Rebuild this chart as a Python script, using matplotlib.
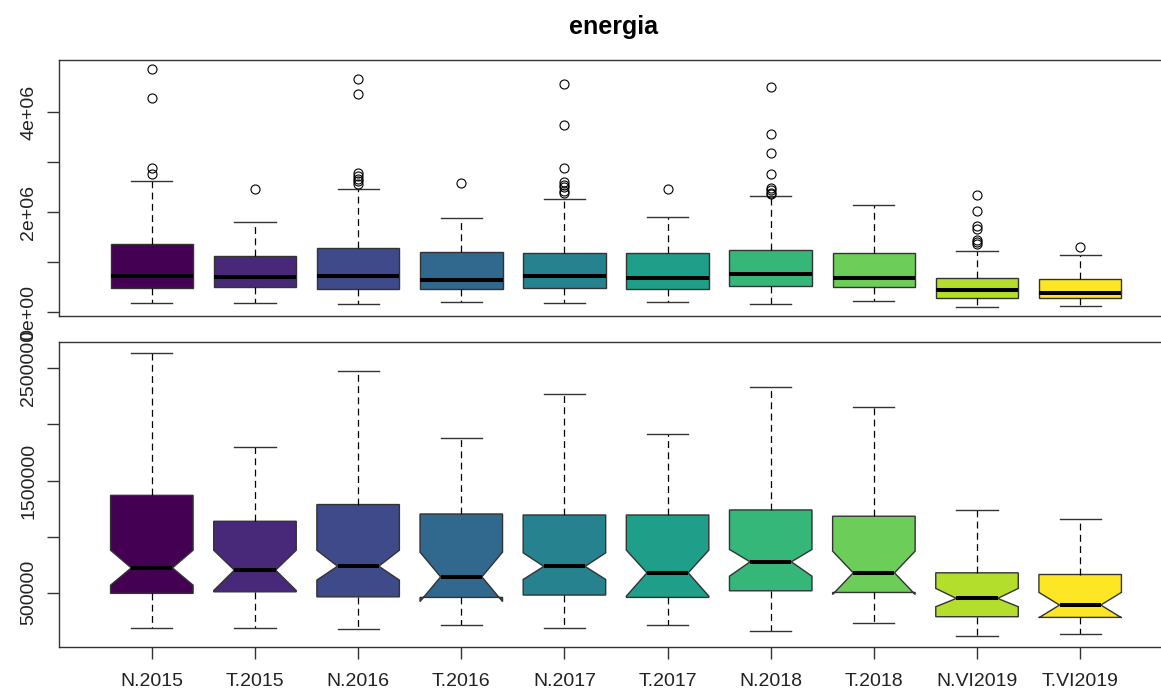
import numpy as np
import matplotlib.pyplot as plt

plt.rcParams['font.family'] = ['Liberation Sans', 'DejaVu Sans']

labels = ['N.2015', 'T.2015', 'N.2016', 'T.2016', 'N.2017',
          'T.2017', 'N.2018', 'T.2018', 'N.VI2019', 'T.VI2019']
# box statistics (in millions)
whislo = [0.189, 0.189, 0.177, 0.210, 0.189, 0.210, 0.162, 0.231, 0.118, 0.130]
q1 = [0.495, 0.509, 0.464, 0.459, 0.480, 0.459, 0.518, 0.503, 0.287, 0.281]
med = [0.722, 0.702, 0.737, 0.642, 0.735, 0.678, 0.776, 0.678, 0.450, 0.391]
q3 = [1.368, 1.137, 1.286, 1.202, 1.193, 1.193, 1.238, 1.182, 0.678, 0.663]
whishi = [2.633, 1.798, 2.471, 1.878, 2.269, 1.911, 2.335, 2.153, 1.235, 1.155]
cilo = [0.568, 0.520, 0.613, 0.422, 0.619, 0.470, 0.648, 0.485, 0.376, 0.278]
cihi = [0.879, 0.879, 0.879, 0.862, 0.856, 0.880, 0.886, 0.871, 0.539, 0.504]
fliers = [
    [4.854, 4.288, 2.888, 2.774],
    [2.468],
    [4.654, 4.368, 2.788, 2.72, 2.66, 2.62, 2.56],
    [2.594],
    [4.554, 3.754, 2.88, 2.6, 2.55, 2.5, 2.42, 2.39],
    [2.468],
    [4.5, 3.574, 3.188, 2.774, 2.488, 2.44, 2.39, 2.36],
    [],
    [2.34, 2.02, 1.734, 1.674, 1.454, 1.40, 1.36],
    [1.308],
]
colors = ['#440154', '#482878', '#3E4A89', '#31688E', '#26828E',
          '#1F9E89', '#35B779', '#6DCD59', '#B4DE2C', '#FDE725']

M = 1e6
stats = []
for i in range(len(labels)):
    stats.append(dict(label=labels[i], whislo=whislo[i]*M, q1=q1[i]*M, med=med[i]*M,
                      q3=q3[i]*M, whishi=whishi[i]*M, cilo=cilo[i]*M, cihi=cihi[i]*M,
                      fliers=np.array(fliers[i])*M))

W, H = 1161, 695
fig = plt.figure(figsize=(W/100, H/100), dpi=100)
ax1 = fig.add_axes([59/W, (H-316)/H, (1173-59)/W, 256/H])
ax2 = fig.add_axes([59/W, (H-647)/H, (1173-59)/W, 305/H])

edge = '#333333'
def draw(ax, notch, show_fl):
    bp = ax.bxp(stats, positions=np.arange(1, 11), widths=0.8, patch_artist=True,
                shownotches=notch, showfliers=show_fl,
                boxprops=dict(edgecolor=edge, linewidth=1.0),
                whiskerprops=dict(color='black', linewidth=0.9, linestyle=(0, (5.5, 3.5))),
                capprops=dict(color=edge, linewidth=1.0),
                medianprops=dict(color='black', linewidth=2.9, solid_capstyle='butt'),
                flierprops=dict(marker='o', markerfacecolor='none', markeredgecolor='black',
                                markersize=6.5, markeredgewidth=0.8))
    for p, c in zip(bp['boxes'], colors):
        p.set_facecolor(c)
    for s in ax.spines.values():
        s.set_color(edge)
        s.set_linewidth(1.0)
    ax.set_xlim(0.1, 10.9)

draw(ax1, False, True)
draw(ax2, True, False)

# R style limits: data range plus 4 %
allv = np.concatenate([np.array(whislo), np.concatenate([f for f in fliers if f])])
lo, hi = allv.min(), allv.max()
ax1.set_ylim((lo - 0.04*(hi-lo))*M, (hi + 0.04*(hi-lo))*M)
lo2, hi2 = min(whislo), max(whishi)
ax2.set_ylim((lo2 - 0.04*(hi2-lo2))*M, (hi2 + 0.04*(hi2-lo2))*M)

ax1.set_xticks([])
ax1.set_yticks([0, 1e6, 2e6, 3e6, 4e6], labels=['0e+00', '', '2e+06', '', '4e+06'])
ax2.set_yticks([5e5, 1e6, 1.5e6, 2e6, 2.5e6], labels=['500000', '', '1500000', '', '2500000'])
ax2.set_xticks(np.arange(1, 11), labels=labels)

for ax in (ax1, ax2):
    ax.tick_params(axis='y', length=8.6, width=1.0, color=edge, pad=7, labelsize=14,
                   labelcolor='#222222')
    for t in ax.get_yticklabels():
        t.set_rotation(90)
        t.set_va('center')
ax2.tick_params(axis='x', length=8.6, width=1.0, color=edge, pad=10, labelsize=14,
                labelcolor='#222222')

fig.text(614/W, 1 - 27/H, 'energia', ha='center', va='center', fontsize=18, fontweight='bold')

fig.savefig('out.png', dpi=100)
